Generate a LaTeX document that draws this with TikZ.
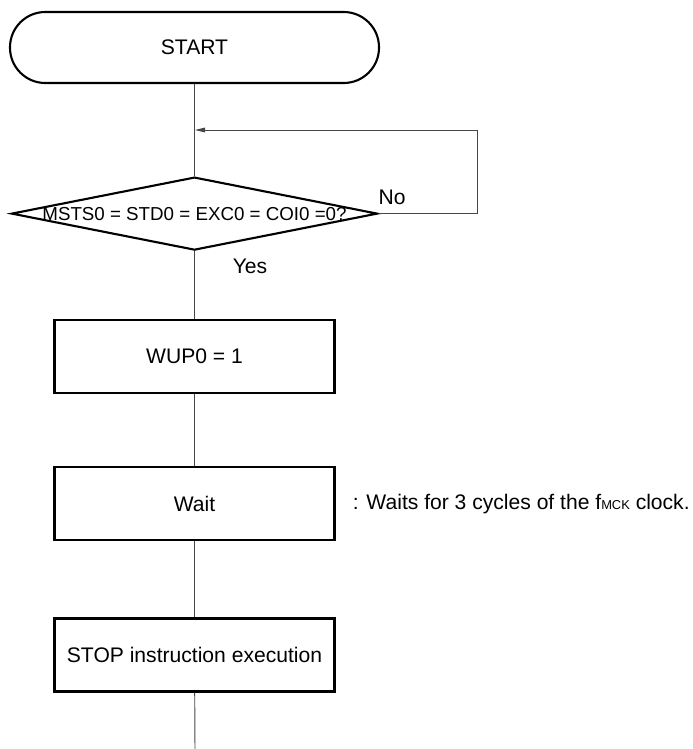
\documentclass[tikz,border=0pt]{standalone}
\usepackage{fontspec}
\setmainfont{Liberation Sans}
\usetikzlibrary{arrows.meta,positioning,shapes.geometric}
\definecolor{FlowGray}{RGB}{70,70,70}

\begin{document}
\begin{tikzpicture}[x=0.03cm, y=-0.03cm, node distance=2.2cm,
  every node/.style={font=\fontsize{18}{21}\selectfont},
  procbox/.style={draw, line width=1.8pt, minimum width=8.4cm, minimum height=2.19cm},
  flow/.style={draw=FlowGray, line width=0.8pt}]
\useasboundingbox (0,0) rectangle (692,749);
\node[draw, line width=1.8pt, rounded corners=1.06cm, minimum width=11.07cm, minimum height=2.13cm] (start) at (194.5,47.5) {START};
\node[draw, diamond, line width=1.8pt, inner sep=0pt, minimum width=10.98cm, minimum height=2.19cm, below=2.76cm of start] (check) {};
\node[font=\fontsize{16}{19}\selectfont] (cond) at (check) {MSTS0 = STD0 = EXC0 = COI0 =0?};
\node[procbox, below=2.04cm of check] (wup) {WUP0 = 1};
\node[procbox, below=2.16cm of wup] (wait) {Wait};
\node[procbox, below=2.28cm of wait] (stop) {STOP instruction execution};
\node[inner sep=0pt, right=0.51cm of wait] (note) {: Waits for 3 cycles of the f{\fontsize{11}{11}\selectfont MCK} clock.};
\node (no) at (392,197) {No};
\node (yes) at (250,266) {Yes};
\coordinate (merge) at (195,130);
\coordinate (back) at (477,130);
\coordinate (finish) at (195,749);
\draw[flow] (start) -- (check);
\draw[flow] (check) -- (wup);
\draw[flow] (wup) -- (wait);
\draw[flow] (wait) -- (stop);
\draw[flow] (stop) -- (finish);
\draw[flow, -{Triangle[length=3mm, width=1.4mm]}] (check.east) -| (back) -- (merge);
\end{tikzpicture}
\end{document}
